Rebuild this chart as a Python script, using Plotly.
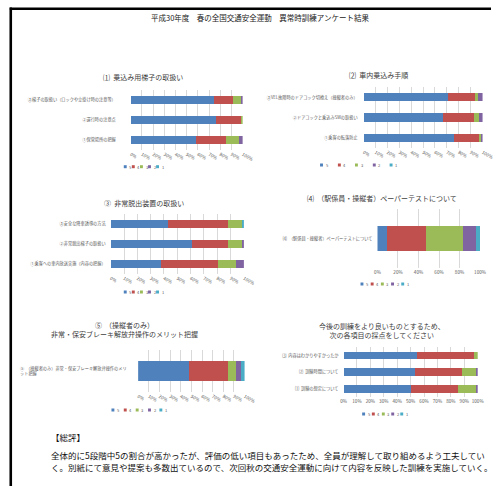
import plotly.graph_objects as go

W, H = 503, 486
FONT = "Noto Sans CJK JP"

# ---------------- data ----------------
series_names = ["5", "4", "3", "2", "1"]
series_colors = ["#4F81BD", "#C0504D", "#9BBB59", "#8064A2", "#4BACC6"]

ticks_10 = [0, 10, 20, 30, 40, 50, 60, 70, 80, 90, 100]
ticks_20 = [0, 20, 40, 60, 80, 100]

main_title = "平成30年度　春の全国交通安全運動　異常時訓練アンケート結果"

c1_title = "⑴  乗込み用梯子の取扱い"
c1_cats = ["①保管場所の把握", "②運行時の注意点", "③梯子の取扱い（ロックや立掛け時の注意等）"]
c1_pct = [[58, 76, 74.5], [27, 23, 16.5], [12, 1, 7.5], [3, 0, 1.5], [0, 0, 0]]

c2_title = "⑵  車内乗込み手順"
c2_cats = ["①乗客の転落防止", "②ドアコックと乗込みSWの取扱い", "③VEL故障時のドアコック切換え（操縦者のみ）"]
c2_pct = [[76, 67, 71], [21, 25.7, 22.8], [1.5, 4.3, 2.7], [1.5, 3, 3.5], [0, 0, 0]]

c3_title = "③  非常脱出装置の取扱い"
c3_cats = ["①乗客への車内放送実施（内容の把握）", "②非常脱出梯子の取扱い", "③安全な降車誘導の方法"]
c3_pct = [[38, 61, 43], [42.6, 27, 45], [13.4, 10.3, 10.3], [6, 1.7, 0], [0, 0, 1.7]]

c4_title = "⑷  （駅係員・操縦者）ペーパーテストについて"
c4_cats = ["⑷  （駅係員・操縦者）ペーパーテストについて"]
c4_pct = [[9.5], [37.5], [36.6], [12.6], [3.8]]

c5_title = "⑤  （操縦者のみ）<br>非常・保安ブレーキ解放弁操作のメリット把握"
c5_cats = ["⑤  （操縦者のみ）非常・保安ブレーキ解放弁操作のメリット把握"]
c5_pct = [[47.7], [36.3], [7.8], [4.6], [3.6]]

c6_title = "今後の訓練をより良いものとするため、<br>次の各項目の採点をしてください"
c6_cats = ["⑴  訓練の想定について", "⑵  訓練時間について", "⑶  内容はわかりやすかったか"]
c6_pct = [[50, 53, 54.7], [35, 35, 42.3], [13.5, 10.5, 3], [1.5, 1.5, 0], [0, 0, 0]]

summary_head = "【総評】"
summary_lines = [
    "全体的に5段階中5の割合が高かったが、評価の低い項目もあったため、全員が理解して取り組めるよう工夫してい",
    "く。別紙にて意見や提案も多数出ているので、次回秋の交通安全運動に向けて内容を反映した訓練を実施していく。",
]

# ---------------- layout (pixel positions) ----------------
panels = [
    dict(title=c1_title, cats=c1_cats, pct=c1_pct, ticks=ticks_10,
         x0=131.7, x1=247.0, y0=90, y1=150, bw=0.42, standoff=14,
         tx=144, ty=77, leg_x=[126, 134.3, 142.7, 151, 159.3], leg_y=166.7),
    dict(title=c2_title, cats=c2_cats, pct=c2_pct, ticks=ticks_10,
         x0=371.7, x1=494.3, y0=87, y1=148, bw=0.41, standoff=5,
         tx=387, ty=75, leg_x=[328.3, 346.7, 364.3, 382.7, 400], leg_y=165),
    dict(title=c3_title, cats=c3_cats, pct=c3_pct, ticks=ticks_10,
         x0=111, x1=248.3, y0=214, y1=274, bw=0.39, standoff=4,
         tx=145, ty=203, leg_x=[126, 134.3, 142.7, 151, 159.3], leg_y=292),
    dict(title=c4_title, cats=c4_cats, pct=c4_pct, ticks=ticks_20,
         x0=386, x1=491.7, y0=209, y1=268, bw=0.435, standoff=4,
         tx=391, ty=198, leg_x=[370, 380.5, 391, 401.5, 412], leg_y=284),
    dict(title=c5_title, cats=c5_cats, pct=c5_pct, ticks=ticks_10,
         x0=139.3, x1=249, y0=350, y1=392, bw=0.49, standoff=9, wrap=27,
         tx=125, ty=329, leg_x=[113.3, 126, 138.3, 151, 162.7], leg_y=410),
    dict(title=c6_title, cats=c6_cats, pct=c6_pct, ticks=ticks_10,
         x0=351, x1=489.3, y0=347, y1=397, bw=0.46, standoff=4,
         tx=391, ty=330, leg_x=[371.7, 381.7, 392, 401.7, 411], leg_y=414),
]

TXT = "#404040"
LBL = "#595959"

fig = go.Figure()
annotations = []
shapes = []
layout_axes = {}

for k, p in enumerate(panels, start=1):
    xa = "x" if k == 1 else f"x{k}"
    ya = "y" if k == 1 else f"y{k}"
    n = len(p["cats"])
    for s, (name, color) in enumerate(zip(series_names, series_colors)):
        fig.add_trace(go.Bar(
            x=p["pct"][s], y=p["cats"], orientation="h", name=name,
            width=[p["bw"]] * n,
            marker=dict(color=color, line=dict(width=0)),
            xaxis=xa, yaxis=ya, showlegend=False,
        ))
    wrapped = "wrap" in p
    layout_axes["xaxis" if k == 1 else f"xaxis{k}"] = dict(
        domain=[p["x0"] / W, p["x1"] / W], range=[0, 100], anchor=ya,
        tickmode="array", tickvals=p["ticks"], ticktext=[f"{t}%" for t in p["ticks"]],
        tickfont=dict(size=4.6, color=LBL, family=FONT),
        showgrid=True, gridcolor="#D9D9D9", gridwidth=0.7,
        zeroline=False, showline=False, ticks="", fixedrange=True,
    )
    layout_axes["yaxis" if k == 1 else f"yaxis{k}"] = dict(
        domain=[1 - p["y1"] / H, 1 - p["y0"] / H], anchor=xa,
        type="category", categoryorder="array", categoryarray=p["cats"],
        range=[-0.5, n - 0.5],
        tickfont=dict(size=4.2, color=LBL, family=FONT),
        ticklabelstandoff=p["standoff"], showticklabels=not wrapped,
        showgrid=False, zeroline=False, showline=False, ticks="", fixedrange=True,
    )
    if wrapped:
        for c in p["cats"]:
            annotations.append(dict(
                x=(p["x0"] - p["standoff"]) / W, xref="paper", y=c, yref=ya,
                xanchor="right", yanchor="middle", align="left", showarrow=False,
                text=c[:p["wrap"]] + "<br>" + c[p["wrap"]:],
                font=dict(size=4.2, color=LBL, family=FONT),
            ))
    annotations.append(dict(
        x=p["tx"] / W, y=1 - p["ty"] / H, xref="paper", yref="paper",
        xanchor="center", yanchor="middle", showarrow=False, text=p["title"],
        font=dict(size=7, color=TXT, family=FONT),
    ))
    for lx, name, color in zip(p["leg_x"], series_names, series_colors):
        shapes.append(dict(
            type="rect", xref="paper", yref="paper",
            x0=(lx - 1.5) / W, x1=(lx + 1.5) / W,
            y0=1 - (p["leg_y"] + 1.5) / H, y1=1 - (p["leg_y"] - 1.5) / H,
            fillcolor=color, line=dict(width=0),
        ))
        annotations.append(dict(
            x=(lx + 2.2) / W, y=1 - p["leg_y"] / H, xref="paper", yref="paper",
            xanchor="left", yanchor="middle", showarrow=False, text=name,
            font=dict(size=4, color=LBL, family=FONT),
        ))

annotations.append(dict(
    x=265 / W, y=1 - 17.3 / H, xref="paper", yref="paper", xanchor="center",
    yanchor="middle", showarrow=False, text=main_title,
    font=dict(size=7.5, color="#222222", family=FONT),
))
annotations.append(dict(
    x=47 / W, y=1 - 437 / H, xref="paper", yref="paper", xanchor="left",
    yanchor="middle", showarrow=False, text=summary_head,
    font=dict(size=8.5, color="#111111", family=FONT),
))
for i, line in enumerate(summary_lines):
    annotations.append(dict(
        x=47 / W, y=1 - (455 + 12 * i) / H, xref="paper", yref="paper",
        xanchor="left", yanchor="middle", showarrow=False, text=line,
        font=dict(size=8.5, color="#111111", family=FONT),
    ))

# page border (scan frame)
shapes.append(dict(type="line", xref="paper", yref="paper",
                   x0=7 / W, x1=1.0, y0=1 - 8.7 / H, y1=1 - 8.7 / H,
                   line=dict(color="#000000", width=2.6)))
shapes.append(dict(type="line", xref="paper", yref="paper",
                   x0=8 / W, x1=8 / W, y0=1 - 7.5 / H, y1=0,
                   line=dict(color="#000000", width=2.6)))

fig.update_layout(
    width=W, height=H, margin=dict(l=0, r=0, t=0, b=0),
    paper_bgcolor="white", plot_bgcolor="white",
    barmode="stack", showlegend=False,
    font=dict(family=FONT, color=TXT),
    annotations=annotations, shapes=shapes,
    **layout_axes,
)

fig.write_html("out.html")
